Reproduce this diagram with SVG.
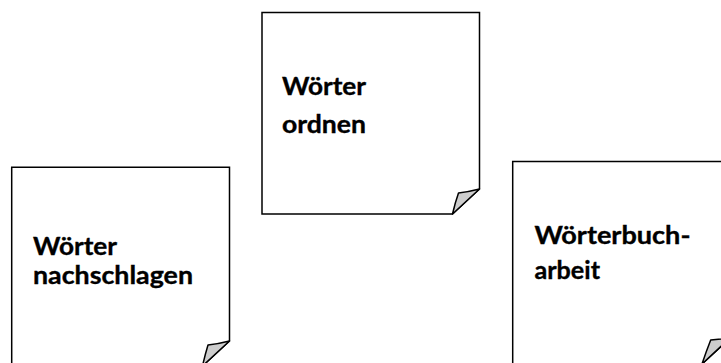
<svg xmlns="http://www.w3.org/2000/svg" width="721" height="363" viewBox="0 0 721 363">
<style>
.note{fill:#ffffff;stroke:#000000;stroke-width:1.5;stroke-linejoin:miter}
.fold{fill:#cdcdcd;stroke:#000000;stroke-width:1.5;stroke-linejoin:round}
.lbl{font-family:Lato,"Open Sans","Liberation Sans",sans-serif;font-weight:bold;font-size:24px;fill:#000000;stroke:#000000;stroke-width:0.35}
</style>
<rect x="0" y="0" width="721" height="363" fill="#ffffff"/>
<g id="note-ordnen">
<path class="note" d="M262,12.5 H479.5 V189 L452.5,214 H262 Z"/>
<path class="fold" d="M479.5,189 Q468,192 458.5,193 Q455,203 452.5,214 Z"/>
<text class="lbl" x="282" y="95" textLength="84" lengthAdjust="spacingAndGlyphs">Wörter</text>
<text class="lbl" x="282" y="132.5" textLength="84" lengthAdjust="spacingAndGlyphs">ordnen</text>
</g>
<g id="note-nachschlagen">
<path class="note" d="M11.7,167.3 H229.5 V341 L202.5,366 H11.7 Z"/>
<path class="fold" d="M229.5,341 Q218,344 208,345 Q205,355 202.5,366 Z"/>
<text class="lbl" x="33" y="254.5" textLength="84" lengthAdjust="spacingAndGlyphs">Wörter</text>
<text class="lbl" x="33" y="283.5" textLength="160" lengthAdjust="spacingAndGlyphs">nachschlagen</text>
</g>
<g id="note-woerterbucharbeit">
<path class="note" d="M512.7,161.5 H730 V338 L702,364 H512.7 Z"/>
<path class="fold" d="M730,338 Q720,339 710.7,340 Q706,352 702,364 Z"/>
<text class="lbl" x="534.5" y="243.5" textLength="156" lengthAdjust="spacingAndGlyphs">Wörterbuch-</text>
<text class="lbl" x="534.5" y="278.5" textLength="65.5" lengthAdjust="spacingAndGlyphs">arbeit</text>
</g>
</svg>
